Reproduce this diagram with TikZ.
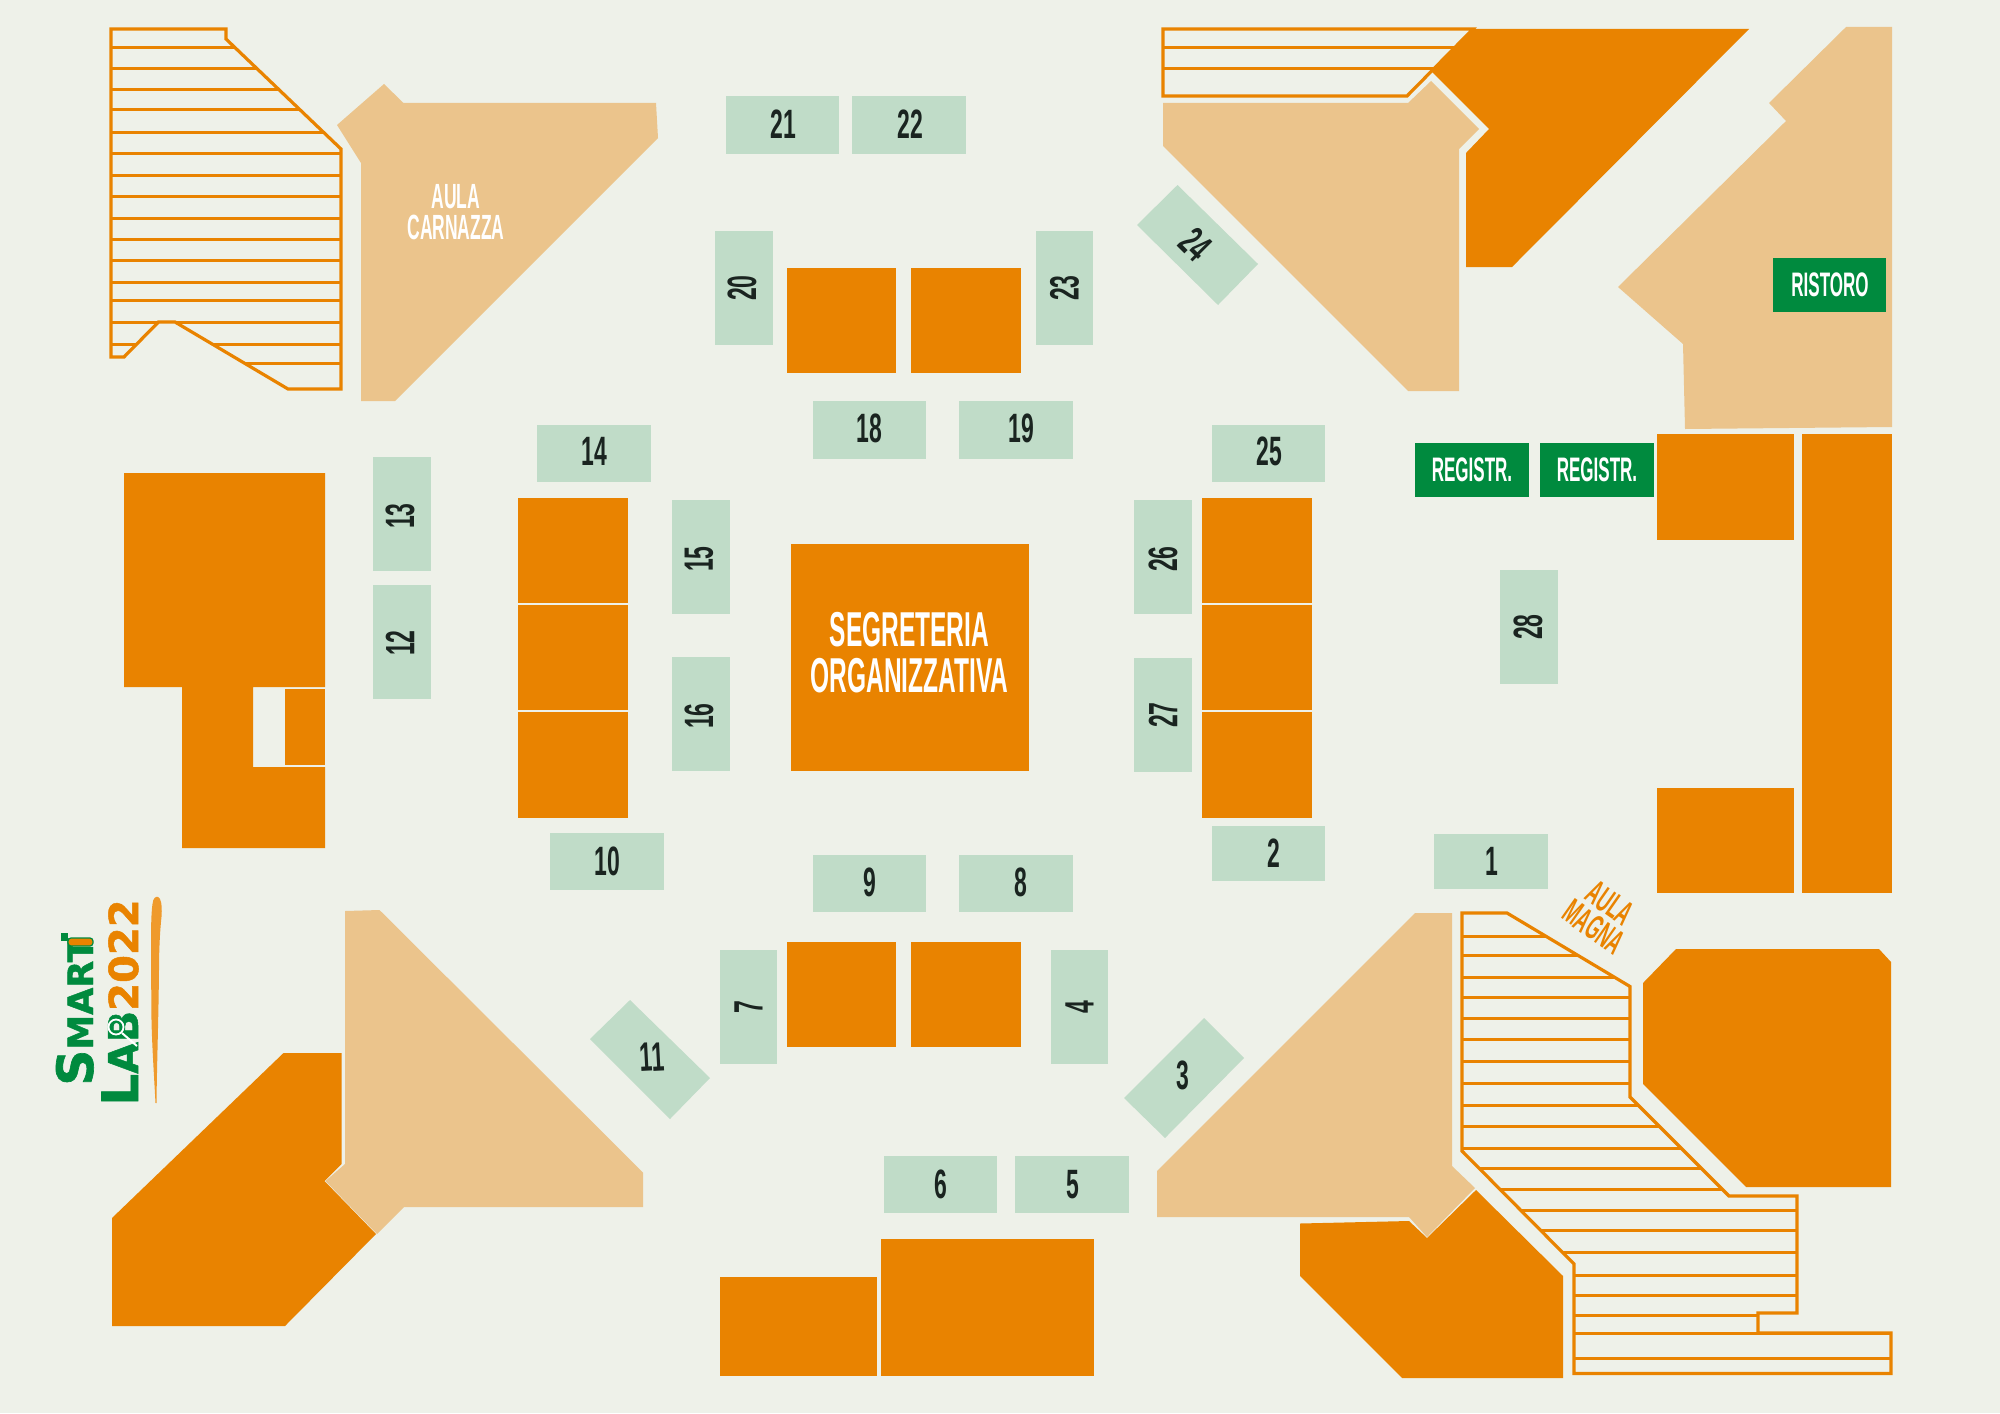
\documentclass[tikz,border=0pt]{standalone}
\usepackage{fontspec}
\setmainfont{Liberation Sans}
\newfontfamily\condf[FakeStretch=0.56]{Liberation Sans}
\newfontfamily\condb[FakeStretch=0.5]{Liberation Sans}
\newfontfamily\logof[BoldFeatures={FakeBold=1.3}]{DejaVu Sans}
\definecolor{bgc}{HTML}{EEF1E9}
\definecolor{tagc}{HTML}{C0DCC8}
\definecolor{orc}{HTML}{E98300}
\definecolor{bec}{HTML}{EBC48C}
\definecolor{grc}{HTML}{008A3E}
\definecolor{inkc}{HTML}{1A2420}
\definecolor{brushc}{HTML}{EF9A2C}
\tikzset{
  num/.style={text=inkc,font=\condf\bfseries\fontsize{20.5}{20.5}\selectfont,inner sep=0pt,anchor=center},
  reg/.style={text=white,font=\condb\bfseries\fontsize{17}{17}\selectfont,inner sep=0pt,anchor=center},
  aula/.style={font=\condb\bfseries\fontsize{17.5}{17.5}\selectfont,inner sep=0pt,anchor=center},
  seg/.style={text=white,font=\condb\bfseries\fontsize{24.5}{24.5}\selectfont,inner sep=0pt,anchor=center},
  hatch/.style={draw=orc,line width=1.6pt,line join=miter},
  hline/.style={draw=orc,line width=1.5pt},
}
\newcommand{\tagr}[8]{\fill[tagc] (#1,#2) rectangle (#3,#4);
  \node[num,rotate=#6] (t#5) at ({(#1+#3)/2+#7},{(#2+#4)/2+#8}) {#5};}
\newcommand{\orbox}[4]{\fill[orc] (#1,#2) rectangle (#3,#4);}
\begin{document}
\begin{tikzpicture}[x=0.5pt,y=-0.5pt]
\useasboundingbox (0,0) rectangle (2000,1413);
\fill[bgc] (0,0) rectangle (2000,1413);

% ---- hatched block, top left
\def\pa{(111,29) -- (226,29) -- (226,39) -- (341,149) -- (341,389) -- (288,389) -- (175,322) -- (158.5,322) -- (124,357) -- (111,357) -- cycle}
\begin{scope}
\clip \pa;
\foreach \y in {48,69,90,110,132,153,175,196,218,239,260,282,300,322,344,363}
  \draw[hline] (100,\y) -- (350,\y);
\end{scope}
\draw[hatch] \pa;

% ---- Aula Carnazza
\fill[bec] (384,84) -- (403.5,103) -- (656,103) -- (658,138) -- (395,401) -- (361,401) -- (361,163) -- (337,125) -- cycle;
\node[aula,text=white] (ac1) at (456,197) {AULA};
\node[aula,text=white] (ac2) at (456,227) {CARNAZZA};

% ---- top right
\def\pb{(1163,29) -- (1473,29) -- (1407,96) -- (1163,96) -- cycle}
\begin{scope}
\clip \pb;
\foreach \y in {48,69}
  \draw[hline] (1150,\y) -- (1500,\y);
\end{scope}
\draw[hatch] \pb;
\fill[orc] (1474,29) -- (1749,29) -- (1512,267) -- (1466,267) -- (1466,153) -- (1489,129) -- (1431,71) -- cycle;
\fill[bec] (1163,103) -- (1408,103) -- (1431,81) -- (1479,129) -- (1459,149) -- (1459,391) -- (1408,391) -- (1163,146) -- cycle;
\fill[bec] (1846,27) -- (1892,27) -- (1892,427) -- (1685,429) -- (1683,344) -- (1618,287) -- (1786,121) -- (1769,103) -- cycle;
\fill[grc] (1773,258) rectangle (1886,312);
\node[reg] (ris) at (1830,285) {RISTORO};

% ---- tags
\tagr{726}{96}{839}{154}{21}{0}{1}{-1}
\tagr{852}{96}{966}{154}{22}{0}{1}{-1}
\tagr{715}{231}{773}{345}{20}{90}{-2}{0}
\tagr{1036}{231}{1093}{345}{23}{90}{0}{0}
\tagr{813}{401}{926}{459}{18}{0}{0}{-2}
\tagr{959}{401}{1073}{459}{19}{0}{5}{-2}
\tagr{537}{425}{651}{482}{14}{0}{0}{-2}
\tagr{1212}{425}{1325}{482}{25}{0}{1}{-2}
\tagr{373}{457}{431}{571}{13}{90}{-2}{2}
\tagr{373}{585}{431}{699}{12}{90}{-2}{1}
\tagr{672}{500}{730}{614}{15}{90}{-2}{2}
\tagr{672}{657}{730}{771}{16}{90}{-2}{2}
\tagr{1134}{500}{1192}{614}{26}{90}{0}{2}
\tagr{1134}{658}{1192}{772}{27}{90}{0}{0}
\tagr{1500}{570}{1558}{684}{28}{90}{-1}{0}
\tagr{550}{833}{664}{890}{10}{0}{0}{0}
\tagr{813}{855}{926}{912}{9}{0}{0}{-1}
\tagr{959}{855}{1073}{912}{8}{0}{5}{-1}
\tagr{1212}{826}{1325}{881}{2}{0}{5}{0}
\tagr{1434}{834}{1548}{889}{1}{0}{1}{0}
\tagr{720}{950}{777}{1064}{7}{90}{0}{0}
\tagr{1051}{950}{1108}{1064}{4}{90}{0}{0}
\tagr{884}{1156}{997}{1213}{6}{0}{0}{0}
\tagr{1015}{1156}{1129}{1213}{5}{0}{1}{0}

% ---- slanted tags
\fill[tagc] (1177.5,185) -- (1258,264) -- (1218,305) -- (1137,225) -- cycle;
\node[num,rotate=-45] (t24) at (1196,244) {24};
\fill[tagc] (1204,1018) -- (1244,1058) -- (1165,1138) -- (1124,1098) -- cycle;
\node[num] (t3) at (1183,1075) {3};
\fill[tagc] (630,1000) -- (710,1078) -- (670,1119) -- (590,1039) -- cycle;
\node[num,rotate=3] (t11) at (652,1057) {11};

% ---- centre
\fill[orc] (791,544) rectangle (1029,771);
\node[seg] (s1) at (909.5,630) {SEGRETERIA};
\node[seg] (s2) at (909.5,676) {ORGANIZZATIVA};
\orbox{787}{268}{896}{373}
\orbox{911}{268}{1021}{373}
\orbox{787}{942}{896}{1047}
\orbox{911}{942}{1021}{1047}
\orbox{518}{498}{628}{603}
\orbox{518}{605}{628}{710}
\orbox{518}{712}{628}{818}
\orbox{1202}{498}{1312}{603}
\orbox{1202}{605}{1312}{710}
\orbox{1202}{712}{1312}{818}

% ---- registration and right side
\fill[grc] (1415,443) rectangle (1529,497);
\node[reg] (r1) at (1472,470) {REGISTR.};
\fill[grc] (1540,443) rectangle (1654,497);
\node[reg] (r2) at (1597,470) {REGISTR.};
\orbox{1657}{434}{1794}{540}
\orbox{1801.5}{434}{1892}{893}
\orbox{1657}{788}{1794}{893}

% ---- left building
\fill[orc] (124,473) -- (325,473) -- (325,687) -- (253,687) -- (253,767) -- (325,767) -- (325,848) -- (182,848) -- (182,687) -- (124,687) -- cycle;
\orbox{285}{689}{325}{765}

% ---- bottom left
\fill[orc] (283.5,1053) -- (341.5,1053) -- (341.5,1164) -- (324.5,1181) -- (376,1234) -- (285,1326) -- (112,1326) -- (112,1218) -- cycle;
\fill[bec] (345,911) -- (379.5,910) -- (643,1172.5) -- (643,1207) -- (404,1207) -- (377,1234) -- (325.5,1181) -- (345,1164) -- cycle;

% ---- bottom centre
\orbox{720}{1277}{877}{1376}
\orbox{881}{1239}{1094}{1376}

% ---- bottom right
\fill[bec] (1415,913) -- (1452,913) -- (1452,1166) -- (1475,1188) -- (1427,1237) -- (1409,1217) -- (1157,1217) -- (1157,1171) -- cycle;
\fill[orc] (1300,1223.5) -- (1409,1221) -- (1427,1238) -- (1476,1190) -- (1563,1276) -- (1563,1378) -- (1402,1378) -- (1300,1276) -- cycle;
\fill[orc] (1676,949) -- (1879,949) -- (1891,962) -- (1891,1187) -- (1746,1187) -- (1643,1084) -- (1643,983) -- cycle;
\def\pc{(1462,913) -- (1507,913) -- (1630,986.5) -- (1630,1097) -- (1729,1196) -- (1797,1196) -- (1797,1313) -- (1758,1313) -- (1758,1333) -- (1891,1333) -- (1891,1373.5) -- (1574,1373.5) -- (1574,1264) -- (1462,1151) -- cycle}
\begin{scope}
\clip \pc;
\foreach \y in {936,955,977,997,1018,1039,1061,1083,1105,1126,1148,1168,1189,1210,1230,1252,1275,1295,1315,1333,1358}
  \draw[hline] (1450,\y) -- (1900,\y);
\end{scope}
\draw[hatch] \pc;
\node[aula,text=orc,rotate=-35] (am1) at (1610,903) {AULA};
\node[aula,text=orc,rotate=-35] (am2) at (1594,927) {MAGNA};

% ---- logo
\node[text=grc,font=\logof\bfseries\fontsize{25}{25}\selectfont,rotate=90,inner sep=0pt,anchor=base west] (sm) at (93,1086) {S\fontsize{17.5}{17.5}\selectfont MART};
\fill[grc] (61,933) rectangle (68,941);
\fill[orc,draw=grc,line width=0.6pt,rounded corners=1.5pt] (68,938) rectangle (93,946);
\node[text=grc,font=\logof\bfseries\fontsize{25}{25}\selectfont,rotate=90,inner sep=0pt,anchor=base west] (la) at (138,1106) {L\fontsize{20.5}{20.5}\selectfont AB};
\node[text=orc,font=\logof\bfseries\fontsize{20}{20}\selectfont,rotate=90,inner sep=0pt,anchor=base east] (yr) at (138,899) {2022};
\draw[white,line width=0.9pt] (116,1027) circle[radius=7.5];
\draw[white,line width=1pt] (122,1033) -- (137,1046);
\fill[brushc] (151,960) .. controls (151,930) and (151,915) .. (152.5,904) .. controls (153,898) and (156,896) .. (158,897) .. controls (161,898) and (162,904) .. (161.7,915) .. controls (160,930) and (159,950) .. (159,970) .. controls (158.5,1020) and (157,1060) .. (156.5,1103) -- (155.5,1103) .. controls (154,1075) and (152,1045) .. (151.5,1020) -- cycle;
\end{tikzpicture}
\end{document}
